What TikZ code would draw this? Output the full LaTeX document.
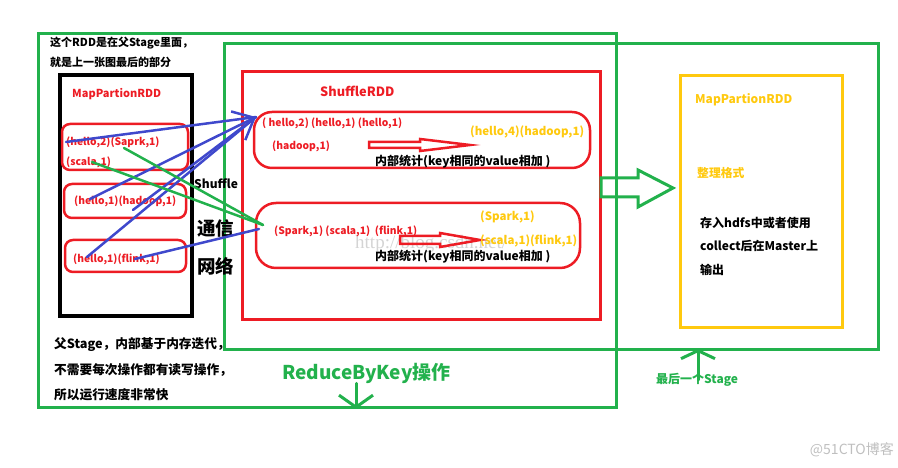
\documentclass[tikz,border=0pt]{standalone}
\usepackage{fontspec}
\setmainfont{Noto Sans CJK SC}
\newfontfamily\markfont{Liberation Serif}
\usetikzlibrary{positioning,arrows.meta}
\definecolor{stagegreen}{HTML}{22B14C}
\definecolor{rddred}{HTML}{ED1C24}
\definecolor{linkblue}{HTML}{3F48CC}
\definecolor{outyellow}{HTML}{FFC90E}

\begin{document}
\begin{tikzpicture}[x=1pt, y=1pt,
  stage/.style={draw=stagegreen, line width=3pt},
  rdd/.style={draw=#1, line width=3pt},
  part/.style={draw=rddred, line width=2.5pt, rounded corners=#1},
  txt/.style={inner sep=0pt, anchor=west, font=\bfseries\fontsize{12}{14}\selectfont},
  big/.style={txt, font=\bfseries\fontsize{18.5}{20}\selectfont},
  tuple/.style={txt, text=rddred, font=\bfseries\fontsize{10.3}{12}\selectfont},
  result/.style={tuple, text=outyellow, font=\bfseries\fontsize{11.5}{13}\selectfont},
  link/.style={draw=linkblue, line width=2.5pt, line cap=round},
  flow/.style={draw=stagegreen, line width=2.5pt, line cap=round},
  hollow/.style={draw=#1, line width=2.5pt, line join=miter}]

\useasboundingbox (0,0) rectangle (898,468);

% STAGES

\draw[stage] (38,60) rectangle (616,434);
\draw[stage] (224,118) rectangle (878,424);

% PARENT STAGE

\draw[rdd=black, line width=4pt] (60,152) rectangle (192,393);

\node[txt, font=\bfseries\fontsize{11}{13}\selectfont] (note-1) at (50,425) {这个RDD是在父Stage里面，};
\node[txt, font=\bfseries\fontsize{11}{13}\selectfont, below=19pt of note-1.west, anchor=west] (note-2) {就是上一张图最后的部分};

\node[tuple, font=\bfseries\fontsize{11}{13}\selectfont] (map-title) at (72,374) {MapPartionRDD};

\draw[part=8pt] (62,298) rectangle (188,344);
\node[tuple] (part-1a) at (66,326) {(hello,2)(Saprk,1)};
\node[tuple, below=20pt of part-1a.west, anchor=west] (part-1b) {(scala,1)};

\draw[part=8pt] (64,250) rectangle (186,284);
\node[tuple] (part-2) at (74,267) {(hello,1)(hadoop,1)};

\draw[part=8pt] (65,196) rectangle (186,228);
\node[tuple] (part-3) at (73,209) {(hello,1)(flink,1)};

\node[txt] (shuffle-label) at (194,284) {Shuffle};
\node[big] (net-1) at (197,240) {通信};
\node[big, below=38pt of net-1.west, anchor=west] (net-2) {网络};

\node[txt, font=\bfseries\fontsize{12.7}{14}\selectfont] (parent-1) at (54,123) {父Stage，内部基于内存迭代，};
\node[txt, font=\bfseries\fontsize{12.7}{14}\selectfont, below=25pt of parent-1.west, anchor=west] (parent-2) {不需要每次操作都有读写操作，};
\node[txt, font=\bfseries\fontsize{12.7}{14}\selectfont, below=25pt of parent-2.west, anchor=west] (parent-3) {所以运行速度非常快};

% SHUFFLE RDD

\draw[rdd=rddred] (242,148) rectangle (600,396);
\node[tuple, font=\bfseries\fontsize{12.8}{14}\selectfont] (shuffle-title) at (320,377) {ShuffleRDD};

\draw[part=18pt] (254,300) rectangle (590,356);
\node[tuple] (group-1a) at (262,345) {( hello,2) (hello,1) (hello,1)};
\node[tuple] (group-1b) at (272,322) {(hadoop,1)};
\draw[hollow=rddred] (369,320) -- (420,320) -- (420,317) -- (470,323) -- (420,329) -- (420,326) -- (369,326) -- cycle;
\node[result] (sum-1) at (470,336) {(hello,4)(hadoop,1)};
\node[txt] (count-1) at (375,306) {内部统计(key相同的value相加 )};

\node[inner sep=0pt, anchor=west, text=black!17, font=\markfont\fontsize{19}{20}\selectfont] (mark-csdn) at (355,224) {http://blog.csdn.net/};

\draw[part=20pt] (256,200) rectangle (580,265);
\node[tuple] (group-2) at (274,237) {(Spark,1) (scala,1)\ \ (flink,1)};
\draw[hollow=rddred] (400,224) -- (440,224) -- (440,221) -- (480,228) -- (440,235) -- (440,232) -- (400,232) -- cycle;
\node[result] (sum-2a) at (480,251) {(Spark,1)};
\node[result, below=24pt of sum-2a.west, anchor=west] (sum-2b) {(scala,1)(flink,1)};
\node[txt] (count-2) at (375,211) {内部统计(key相同的value相加 )};

% SHUFFLE LINKS

\coordinate (shuffle-in-1) at (256,351);
\coordinate (shuffle-in-2) at (259,239);
\coordinate (shuffle-in-3) at (263,243);

\draw[link] (part-1a.west) -- (shuffle-in-1);
\draw[link, -{Straight Barb[length=18pt,width=32pt]}] ([xshift=16pt,yshift=2pt]part-2.west) -- (shuffle-in-1);
\draw[link] ([xshift=59pt,yshift=-9pt]part-2.west) -- (shuffle-in-1);
\draw[link] ([xshift=14pt,yshift=2pt]part-3.west) -- (shuffle-in-1);
\draw[link] ([xshift=62pt]part-3.west) -- (shuffle-in-2);

\draw[flow] ([xshift=58pt,yshift=-6pt]part-1a.west) -- (shuffle-in-3);
\draw[flow] ([xshift=26pt]part-1b.west) -- (shuffle-in-3);

% LAST STAGE

\draw[hollow=stagegreen, line width=3pt] (601,271) -- (638,271) -- (638,261) -- (673,280) -- (638,298) -- (638,290) -- (601,290) -- cycle;

\draw[rdd=outyellow] (680,140) rectangle (842,392);
\node[result, font=\bfseries\fontsize{12}{14}\selectfont] (final-title) at (695,368) {MapPartionRDD};
\node[result, font=\bfseries\fontsize{11.8}{14}\selectfont] (format) at (697,295) {整理格式};
\node[txt] (save-1) at (700,245) {存入hdfs中或者使用};
\node[txt, below=23pt of save-1.west, anchor=west] (save-2) {collect后在Master上};
\node[txt, below=24pt of save-2.west, anchor=west] (save-3) {输出};

% STAGE LABELS

\coordinate (last-tip) at (698,119);
\coordinate (reduce-tip) at (356,59);

\node[txt, text=stagegreen] (last-stage) at (656,88) {最后一个Stage};
\draw[flow, line width=3pt, -{Straight Barb[length=8pt,width=34pt]}] (last-stage.center -| last-tip) -- (last-tip);

\node[big, text=stagegreen, font=\bfseries\fontsize{19}{21}\selectfont] (reduce-label) at (282,95) {ReduceByKey操作};
\draw[flow, line width=3pt, -{Straight Barb[length=12pt,width=34pt]}] (reduce-label.south -| reduce-tip) -- (reduce-tip);

\node[inner sep=0pt, anchor=east, text=black!25, font=\fontsize{14}{16}\selectfont] (mark-51cto) at (894,18) {@51CTO博客};

\end{tikzpicture}
\end{document}
